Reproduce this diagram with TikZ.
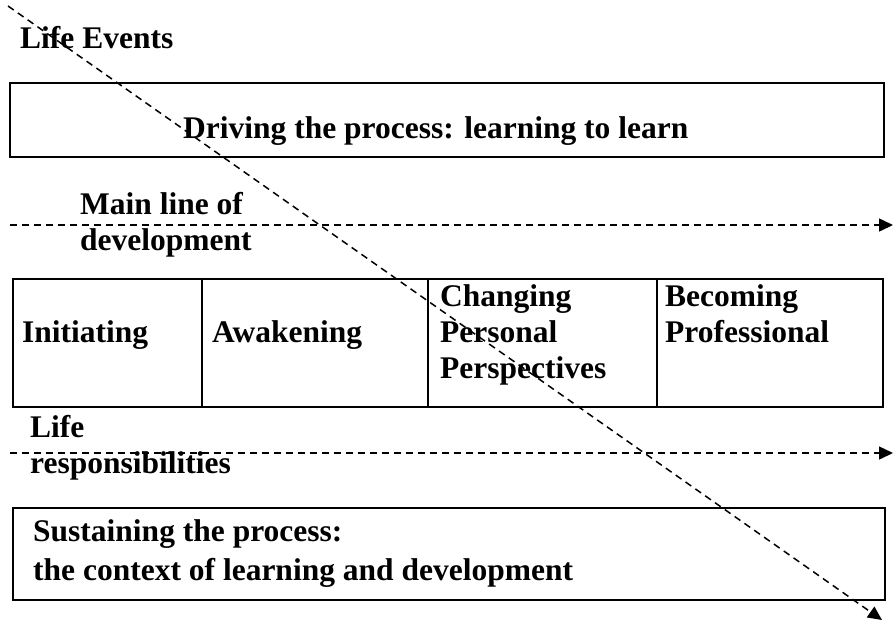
\documentclass[tikz,border=0pt]{standalone}
\usepackage{fontspec}
\setmainfont{Liberation Serif}
\usetikzlibrary{arrows.meta}

\begin{document}
\begin{tikzpicture}[
    x=1pt, y=-1pt,
    frame/.style={draw, line width=1.5pt},
    txt/.style={anchor=base west, inner sep=0pt, align=left, font=\fontsize{31.5}{36}\selectfont\bfseries},
    flow/.style={dash pattern=on 7pt off 5pt, line width=1.5pt, -{Triangle[length=14pt,width=13pt]}}
]

\useasboundingbox (0,0) rectangle (894,622);

% Life events
\node[txt] (events) at (20,48) {Life Events};

% Driving box
\draw[frame] (10,83) rectangle (884,157);
\node[txt] (driving) at (183,138) {Driving the process: learning to learn};

% Main line (base = last line)
\node[txt] (mainline) at (80,250) {Main line of\\development};
\coordinate (main-start) at (10,225);
\coordinate (main-end) at (893,225);
\draw[flow] (main-start) -- (main-end);

% Stages
\draw[frame] (13,279) rectangle (883,407);
\foreach \x in {202,428,657}
    \draw[frame] (\x,279) -- (\x,407);
\node[txt] (initiating) at (22,342) {Initiating};
\node[txt] (awakening) at (212,342) {Awakening};
\node[txt] (changing) at (440,378) {Changing\\Personal\\Perspectives};
\node[txt] (becoming) at (665,342) {Becoming\\Professional};

% Life responsibilities
\node[txt] (liferesp) at (30,473) {Life\\responsibilities};
\coordinate (resp-start) at (10,453);
\coordinate (resp-end) at (893,453);
\draw[flow] (resp-start) -- (resp-end);

% Sustaining box
\draw[frame] (13,508) rectangle (885,600);
\node[txt] (sustaining) at (33,580) {Sustaining the process:\\[3pt]the context of learning and development};

% Life events diagonal
\coordinate (ev-start) at (8,6);
\coordinate (ev-end) at (882,620);
\draw[flow] (ev-start) -- (ev-end);

\end{tikzpicture}
\end{document}
